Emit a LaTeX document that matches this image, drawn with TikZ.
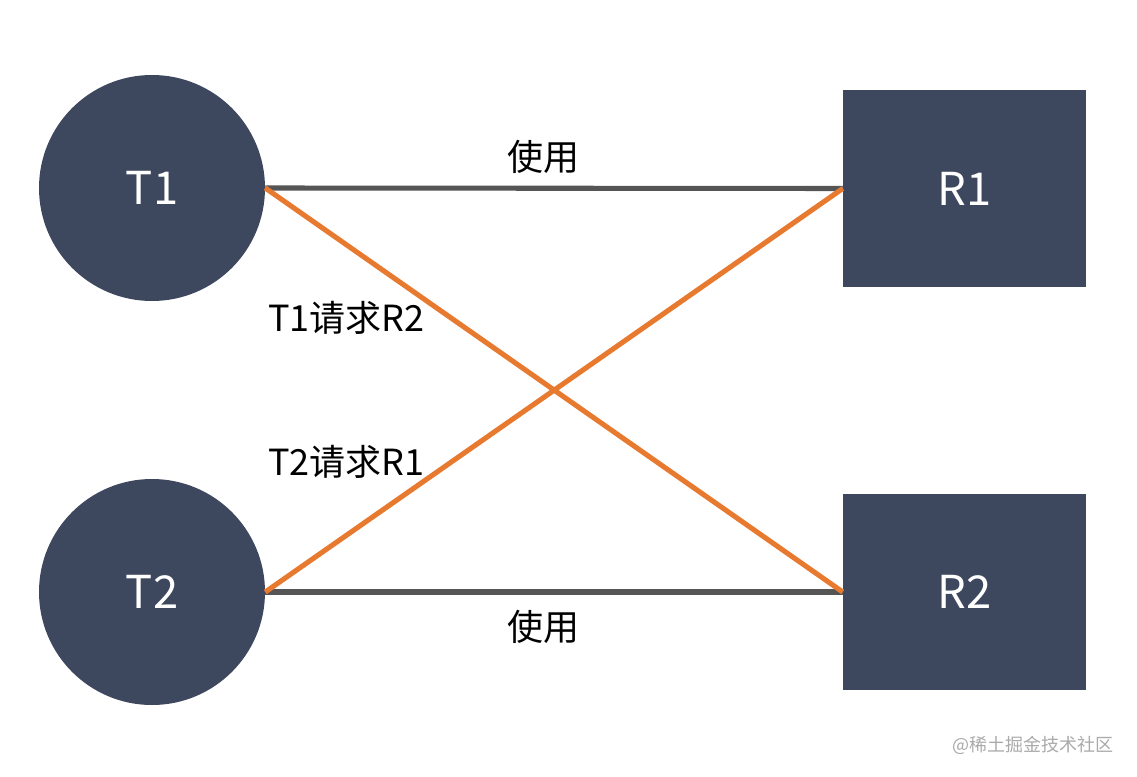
\documentclass[tikz,border=0pt]{standalone}
\usepackage{fontspec}
\setmainfont{Noto Sans CJK SC}
\begin{document}
\begin{tikzpicture}[x=0.75pt,y=-0.75pt,
  navy/.style={fill={rgb,255:red,61;green,71;blue,94}, draw=none},
  use/.style={draw={rgb,255:red,85;green,85;blue,85}, line width=3.8pt},
  req/.style={draw={rgb,255:red,232;green,122;blue,48}, line width=3.8pt},
  lbl/.style={font=\fontsize{27}{30}\selectfont, text=black, inner sep=0pt},
  big/.style={font=\fontsize{34}{38}\selectfont, text=white}]
\useasboundingbox (0,0) rectangle (1137,777);
\fill[white] (0,0) rectangle (1137,777);
\node[navy, circle, minimum size=226*0.75pt, inner sep=0pt, big] (t1) at (152,188) {T1};
\node[navy, circle, minimum size=226*0.75pt, inner sep=0pt, big] (t2) at (152,592) {T2};
\node[navy, rectangle, minimum width=243*0.75pt, minimum height=196*0.75pt, inner sep=0pt, big] (r1) at (964.5,188.5) {R1};
\node[navy, rectangle, minimum width=243*0.75pt, minimum height=196*0.75pt, inner sep=0pt, big] (r2) at (964.5,592) {R2};
\draw[use] (t1.east) -- (r1.west);
\draw[use] (t2.east) -- (r2.west);
\draw[req] (t1.east) -- (r2.west);
\draw[req] (t2.east) -- (r1.west);
\node[lbl] (u1) at (543,157) {使用};
\node[lbl] (u2) at (543,627) {使用};
\node[lbl, anchor=west] (q1) at (268,318) {T1请求R2};
\node[lbl, anchor=west] (q2) at (268,462) {T2请求R1};
\node[font=\fontsize{13.5}{16}\selectfont, text={rgb,255:red,170;green,170;blue,170}, anchor=east, inner sep=0pt] (wm) at (1114,745) {@稀土掘金技术社区};
\end{tikzpicture}
\end{document}
